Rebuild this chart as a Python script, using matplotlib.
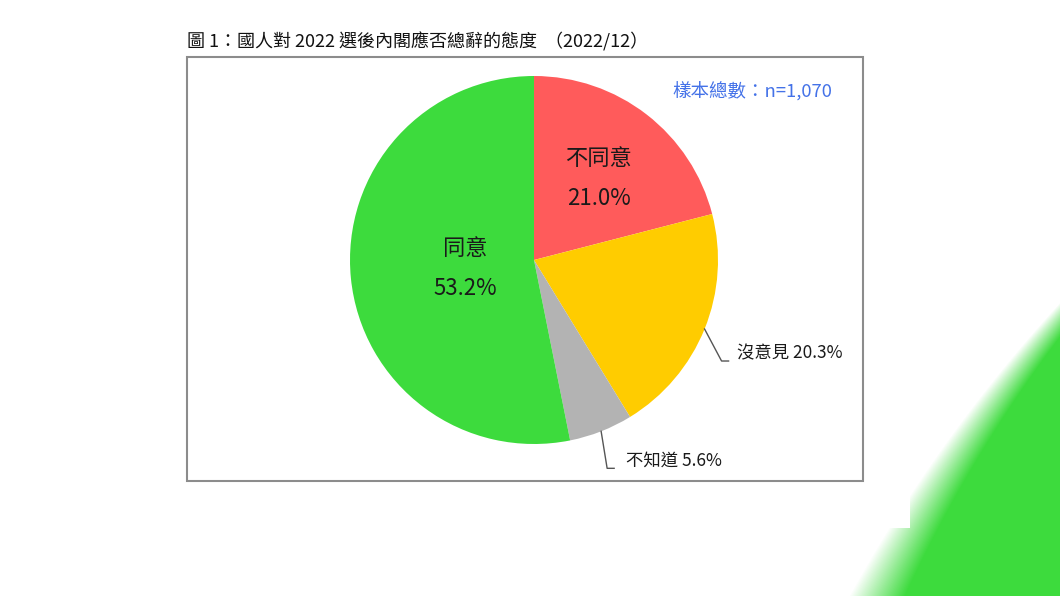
import numpy as np
import matplotlib.pyplot as plt
from matplotlib.patches import Rectangle

plt.rcParams['font.family'] = ['Noto Sans CJK TC', 'DejaVu Sans']

###########################################################

labels = ['不同意', '沒意見', '不知道', '同意']
values = [21.0, 20.3, 5.6, 53.2]
colors = ['#FF5B5B', '#FFCC00', '#B3B3B3', '#3DDB3D']
title = '圖 1：國人對 2022 選後內閣應否總辭的態度  （2022/12）'
sample = '樣本總數：n=1,070'

###########################################################

W, H = 1060, 596
fig = plt.figure(figsize=(W / 100, H / 100), dpi=100)
fig.patch.set_facecolor('white')

# green corner decoration (soft diagonal edge)
yy, xx = np.mgrid[0:H, 0:W]
d = np.hypot(xx - 2175, yy - 1252)
w = np.clip(15 + 0.1 * (yy - 250), 15, None)
alpha = np.clip((1455 - d) / w + 0.5, 0, 1)
img = np.zeros((H, W, 4))
img[..., 0] = 0x3D / 255
img[..., 1] = 0xDB / 255
img[..., 2] = 0x3D / 255
img[..., 3] = alpha
bg = fig.add_axes([0, 0, 1, 1])
bg.imshow(img, extent=(0, W, H, 0), interpolation='bilinear')
bg.set_xlim(0, W)
bg.set_ylim(H, 0)
bg.axis('off')

ax = fig.add_axes([0, 0, 1, 1])
ax.patch.set_alpha(0)

# white panel masking part of the decoration
ax.add_patch(Rectangle((0, H - 528), 910, 528, facecolor='white', edgecolor='none', zorder=0))
# chart frame
ax.add_patch(Rectangle((187, H - 481), 676, 424, facecolor='white',
                       edgecolor='#8C8C8C', lw=1.5, zorder=1))

cx, cy, r = 534, H - 260, 184
wedges, _ = ax.pie(values, colors=colors, startangle=90, counterclock=False,
                   center=(cx, cy), radius=r, wedgeprops=dict(linewidth=0, zorder=2))

def mid(wd):
    return np.deg2rad((wd.theta1 + wd.theta2) / 2)

# inside labels
for i, frac in [(0, 0.575), (3, 0.375)]:
    a = mid(wedges[i])
    x, y = cx + frac * r * np.cos(a), cy + frac * r * np.sin(a)
    ax.text(x, y + 18, labels[i], ha='center', va='center', fontsize=16,
            fontweight='medium', color='#1A1A1A', zorder=3)
    ax.text(x, y - 22, f'{values[i]:.1f}%', ha='center', va='center', fontsize=16,
            fontweight='medium', color='#1A1A1A', zorder=3)

# outside labels with leader lines
for i, dx, dy, tx in [(1, 17, -32, 15), (2, 6, -37, 19)]:
    a = mid(wedges[i])
    x0, y0 = cx + r * np.cos(a), cy + r * np.sin(a)
    x1, y1 = x0 + dx, y0 + dy
    ax.plot([x0, x1, x1 + 7], [y0, y1, y1], color='#555555', lw=1, zorder=3)
    ax.text(x1 + tx, y1 - 1, f'{labels[i]} {values[i]:.1f}%', ha='left', va='bottom',
            fontsize=12.5, fontweight='medium', color='#1A1A1A', zorder=3)

ax.text(187, H - 42, title, ha='left', va='center', fontsize=13, color='#111111')
ax.text(832, H - 92, sample, ha='right', va='center', fontsize=13.3,
        fontweight='medium', color='#4472E8', zorder=3)

ax.set_xlim(0, W)
ax.set_ylim(0, H)
ax.set_aspect('auto')
ax.axis('off')

fig.savefig('out.png', dpi=100)
